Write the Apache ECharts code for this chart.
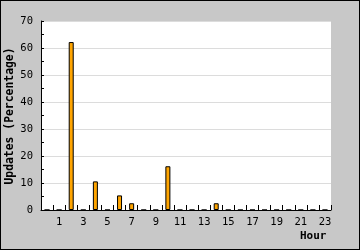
<!DOCTYPE html>
<html><head><meta charset="utf-8">
<script src="https://cdn.jsdelivr.net/npm/echarts@6/dist/echarts.min.js"></script>
<style>
html,body{margin:0;padding:0;background:#fff;}
#c{width:358px;height:248px;border:1px solid #000;background:#C8C8C8;}
</style></head>
<body><div id="c"></div>
<script>
const hours = ['0','1','2','3','4','5','6','7','8','9','10','11','12','13','14','15','16','17','18','19','20','21','22','23'];
const updates = [0,0,62.2,0,10.6,0,5.4,2.5,0,0,16.2,0,0,0,2.5,0,0,0,0,0,0,0,0,0];
const yTicks = {min:0, max:70, interval:10};
const xTitle = 'Hour';
const yTitle = 'Updates (Percentage)';

const chart = echarts.init(document.getElementById('c'), null, {renderer:'canvas'});
const mono = 'DejaVu Sans Mono';
chart.setOption({
  animation:false,
  backgroundColor:'#C8C8C8',
  grid:{left:40, right:28, top:20, bottom:39, show:true, backgroundColor:'#fff', borderWidth:0},
  xAxis:{
    type:'category', data:hours, boundaryGap:true,
    axisLine:{lineStyle:{color:'#000', width:1}},
    axisTick:{show:true, inside:true, length:5, interval:0, alignWithLabel:false, lineStyle:{color:'#000'}},
    axisLabel:{interval:(i)=>i%2===1, color:'#000', fontFamily:mono, fontSize:10.5, margin:7},
    splitLine:{show:false}
  },
  yAxis:{
    type:'value', min:yTicks.min, max:yTicks.max, interval:yTicks.interval,
    axisLine:{show:true, lineStyle:{color:'#000', width:1}},
    axisTick:{show:true, inside:true, length:3, lineStyle:{color:'#000'}},
    minorTick:{show:true, splitNumber:2, length:3, lineStyle:{color:'#000'}},
    axisLabel:{color:'#000', fontFamily:mono, fontSize:10.5, margin:8},
    splitLine:{show:true, lineStyle:{color:'#DCDCDC', width:1}}
  },
  series:[{
    type:'bar', data:updates, barWidth:5,
    itemStyle:{color:'#FFA500', borderColor:'#000', borderWidth:1}
  }],
  graphic:[
    {type:'text', left:299, top:230, style:{text:xTitle, font:'bold 11px "DejaVu Sans Mono"', fill:'#000'}},
    {type:'text', x:9, y:115, rotation:Math.PI/2, style:{text:yTitle, font:'bold 11.4px "DejaVu Sans Mono"', fill:'#000', align:'center', verticalAlign:'middle'}}
  ]
});
</script></body></html>
